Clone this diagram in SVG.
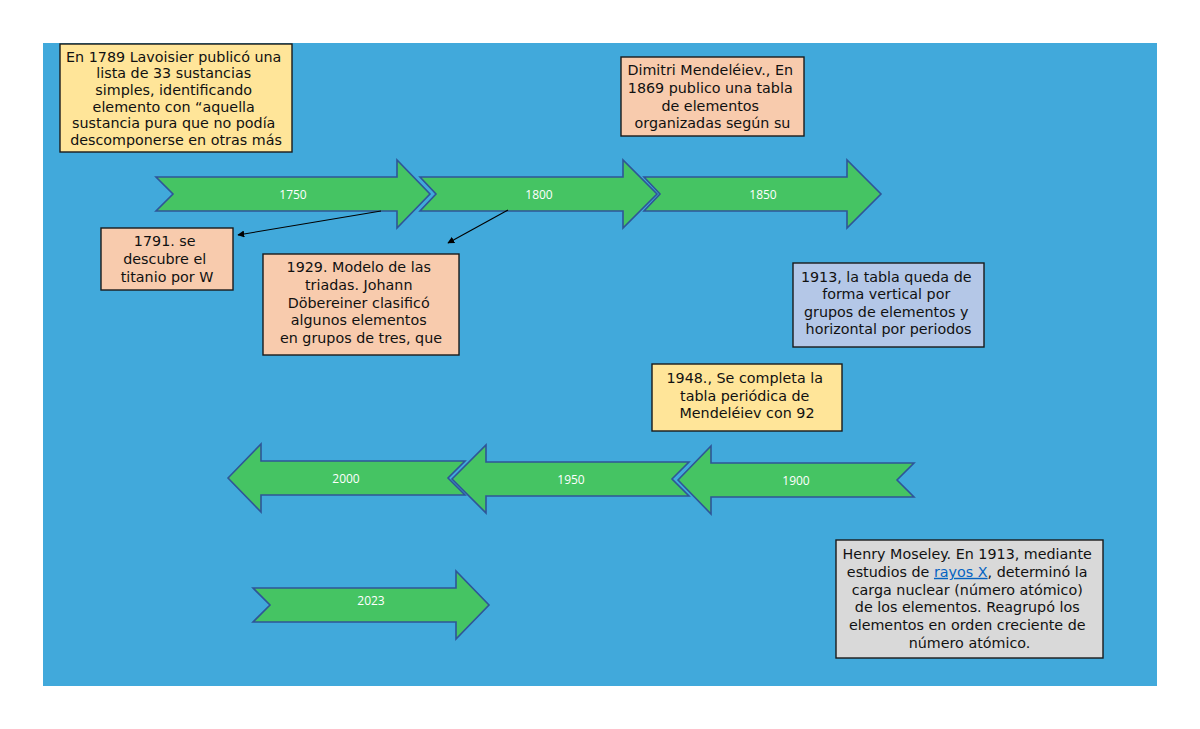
<svg xmlns="http://www.w3.org/2000/svg" width="1200" height="729" viewBox="0 0 1200 729">
<style>
.arrow{fill:#45C463;stroke:#2F5597;stroke-width:1.6;stroke-linejoin:miter}
.alab{font-family:"Open Sans","Liberation Sans",sans-serif;font-size:12px;fill:#ffffff;text-anchor:middle}
.box{stroke:#1a1a1a;stroke-width:1.4}
.txt{font-family:"DejaVu Sans",sans-serif;font-size:14.3px;fill:#111111;text-anchor:middle}
.yel{fill:#FFE599}
.pch{fill:#F8CBAD}
.blu{fill:#B4C7E7}
.gry{fill:#D9D9D9}
.conn{stroke:#000000;stroke-width:1.1;fill:none}
</style>
<defs>
<marker id="ah" viewBox="0 0 10 10" refX="9" refY="5" markerWidth="7" markerHeight="7" orient="auto" markerUnits="userSpaceOnUse">
<path d="M0,0 L10,5 L0,10 Z" fill="#000000"/>
</marker>
</defs>
<rect x="0" y="0" width="1200" height="729" fill="#ffffff"/>
<rect x="43" y="43" width="1114" height="643" fill="#41A9DB"/>

<g id="arrow-1750">
<path class="arrow" d="M156,177 L397,177 L397,160 L430,194 L397,228 L397,211 L156,211 L173,194 Z"/>
<text class="alab" x="293" y="198.5">1750</text>
</g>
<g id="arrow-1800">
<path class="arrow" d="M420,177 L623,177 L623,160 L657,194 L623,228 L623,211 L420,211 L436,194 Z"/>
<text class="alab" x="539" y="198.5">1800</text>
</g>
<g id="arrow-1850">
<path class="arrow" d="M644,177 L847,177 L847,160 L881,194 L847,228 L847,211 L644,211 L660,194 Z"/>
<text class="alab" x="763" y="198.5">1850</text>
</g>
<g id="arrow-2000">
<path class="arrow" d="M228,478 L261,444 L261,461 L465,461 L448,478 L465,495 L261,495 L261,512 Z"/>
<text class="alab" x="346" y="482.5">2000</text>
</g>
<g id="arrow-1950">
<path class="arrow" d="M452,479 L486,445 L486,462 L689,462 L672,479 L689,496 L486,496 L486,513 Z"/>
<text class="alab" x="571" y="483.5">1950</text>
</g>
<g id="arrow-1900">
<path class="arrow" d="M678,480 L711,446 L711,463 L914,463 L897,480 L914,497 L711,497 L711,514 Z"/>
<text class="alab" x="796" y="484.5">1900</text>
</g>
<g id="arrow-2023">
<path class="arrow" d="M253,588 L456,588 L456,571 L489,605 L456,639 L456,622 L253,622 L270,605 Z"/>
<text class="alab" x="371" y="605">2023</text>
</g>

<g id="connectors">
<line class="conn" x1="381" y1="211" x2="238" y2="235" marker-end="url(#ah)"/>
<line class="conn" x1="508" y1="210" x2="448" y2="243" marker-end="url(#ah)"/>
</g>

<g id="box-lavoisier">
<rect class="box yel" x="60" y="44" width="232" height="108"/>
<text class="txt">
<tspan x="176" y="61.7">En 1789 Lavoisier publicó una</tspan>
<tspan x="176" y="78.3">lista de 33 sustancias</tspan>
<tspan x="176" y="95">simples, identificando</tspan>
<tspan x="176" y="111.7">elemento con “aquella</tspan>
<tspan x="176" y="128.3">sustancia pura que no podía</tspan>
<tspan x="176" y="144.8">descomponerse en otras más</tspan>
</text>
</g>

<g id="box-mendeleiev">
<rect class="box pch" x="621" y="57" width="183" height="79"/>
<text class="txt">
<tspan x="712.5" y="75.3">Dimitri Mendeléiev., En</tspan>
<tspan x="712.5" y="93">1869 publico una tabla</tspan>
<tspan x="712.5" y="110.7">de elementos</tspan>
<tspan x="712.5" y="128.4">organizadas según su</tspan>
</text>
</g>

<g id="box-1791">
<rect class="box pch" x="101" y="228" width="132" height="62"/>
<text class="txt">
<tspan x="167" y="245.7">1791. se</tspan>
<tspan x="167" y="263.7">descubre el</tspan>
<tspan x="167" y="281.7">titanio por W</tspan>
</text>
</g>

<g id="box-1929">
<rect class="box pch" x="263" y="254" width="196" height="101"/>
<text class="txt">
<tspan x="361" y="271.7">1929. Modelo de las</tspan>
<tspan x="361" y="289.6">triadas. Johann</tspan>
<tspan x="361" y="307.5">Döbereiner clasificó</tspan>
<tspan x="361" y="325.4">algunos elementos</tspan>
<tspan x="361" y="343.3">en grupos de tres, que</tspan>
</text>
</g>

<g id="box-1913">
<rect class="box blu" x="793" y="263" width="191" height="84"/>
<text class="txt">
<tspan x="888.5" y="281.7">1913, la tabla queda de</tspan>
<tspan x="888.5" y="299.2">forma vertical por</tspan>
<tspan x="888.5" y="316.7">grupos de elementos y</tspan>
<tspan x="888.5" y="334.2">horizontal por periodos</tspan>
</text>
</g>

<g id="box-1948">
<rect class="box yel" x="652" y="364" width="190" height="67"/>
<text class="txt">
<tspan x="747" y="382.7">1948., Se completa la</tspan>
<tspan x="747" y="400.5">tabla periódica de</tspan>
<tspan x="747" y="418.3">Mendeléiev con 92</tspan>
</text>
</g>

<g id="box-moseley">
<rect class="box gry" x="836" y="540" width="267" height="118"/>
<text class="txt">
<tspan x="969.5" y="559">Henry Moseley. En 1913, mediante</tspan>
<tspan x="969.5" y="576.8">estudios de <tspan fill="#0563C1" text-decoration="underline">rayos X</tspan>, determinó la</tspan>
<tspan x="969.5" y="594.6">carga nuclear (número atómico)</tspan>
<tspan x="969.5" y="612.4">de los elementos. Reagrupó los</tspan>
<tspan x="969.5" y="630.2">elementos en orden creciente de</tspan>
<tspan x="969.5" y="648">número atómico.</tspan>
</text>
</g>
</svg>
